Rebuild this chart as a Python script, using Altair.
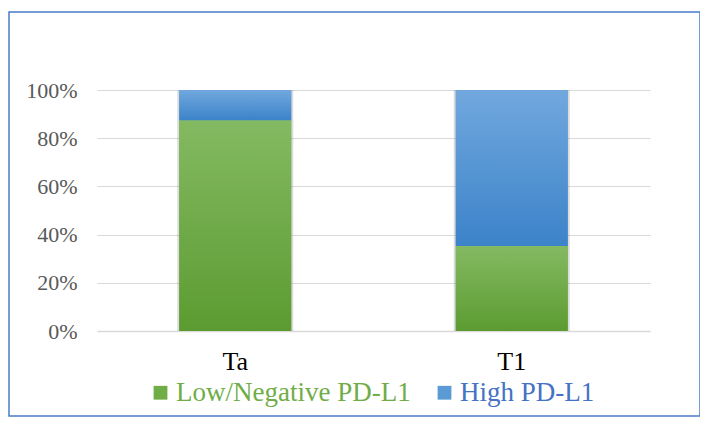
import altair as alt
import pandas as pd

categories = ["Ta", "T1"]
series_names = ["Low/Negative PD-L1", "High PD-L1"]
low_neg = [87.5, 35.3]
high_pdl1 = [12.5, 64.7]
y_ticks = [0, 20, 40, 60, 80, 100]

rows = []
for i, c in enumerate(categories):
    rows.append({"cat": c, "series": series_names[0], "order": 0, "value": low_neg[i]})
    rows.append({"cat": c, "series": series_names[1], "order": 1, "value": high_pdl1[i]})
df = pd.DataFrame(rows)

FONT = "Liberation Serif"

green_grad = alt.LinearGradient(
    gradient="linear", x1=0, x2=0, y1=0, y2=1,
    stops=[alt.GradientStop(color="#84BA62", offset=0),
           alt.GradientStop(color="#5C9B31", offset=1)],
)
blue_grad = alt.LinearGradient(
    gradient="linear", x1=0, x2=0, y1=0, y2=1,
    stops=[alt.GradientStop(color="#71A8DE", offset=0),
           alt.GradientStop(color="#3C83C9", offset=1)],
)

x_enc = alt.X(
    "cat:N", sort=categories, title=None,
    scale=alt.Scale(paddingInner=0, paddingOuter=0),
    axis=alt.Axis(labelFont=FONT, labelFontSize=26, labelColor="#000000",
                  labelAngle=0, ticks=False, domain=True, domainColor="#D9D9D9",
                  domainWidth=1.3, labelPadding=17),
)
y_enc = alt.Y(
    "v0:Q", title=None,
    scale=alt.Scale(domain=[0, 100], nice=False),
    axis=alt.Axis(values=y_ticks, labelExpr="datum.value + '%'", labelFont=FONT,
                  labelFontSize=22, labelColor="#595959", labelPadding=20,
                  ticks=False, domain=False, gridColor="#D9D9D9", gridWidth=1),
)

base = alt.Chart(df).transform_stack(
    stack="value", groupby=["cat"], as_=["v0", "v1"],
    sort=[alt.SortField("order", order="ascending")],
)

shadow = base.mark_bar(size=116, color="#8C8C8C", opacity=0.3).encode(
    x=x_enc, y=y_enc, y2="v1:Q"
)

legend_bars = base.mark_bar(size=112).encode(
    x=x_enc, y=y_enc, y2="v1:Q",
    color=alt.Color(
        "series:N",
        scale=alt.Scale(domain=series_names, range=["#70AD47", "#5B9BD5"]),
        legend=alt.Legend(
            title=None, orient="none", direction="horizontal",
            legendX=50, legendY=289,
            labelFont=FONT, labelFontSize=27,
            labelColor=alt.ExprRef(expr="datum.label === 'High PD-L1' ? '#4472C4' : '#70AD47'"),
            symbolType="square", symbolSize=190, symbolStrokeWidth=0,
            labelOffset=2, columnPadding=20, labelLimit=400,
        ),
    ),
)

green_bars = base.transform_filter(alt.datum.order == 0).mark_bar(
    size=112, fill=green_grad
).encode(x=x_enc, y=y_enc, y2="v1:Q")

blue_bars = base.transform_filter(alt.datum.order == 1).mark_bar(
    size=112, fill=blue_grad
).encode(x=x_enc, y=y_enc, y2="v1:Q")

border = alt.Chart(pd.DataFrame({"b": [0]})).mark_rect(
    filled=False, stroke="#4A7CCB", strokeWidth=1.5, clip=False
).encode(
    x=alt.value(-88), x2=alt.value(603), y=alt.value(-78), y2=alt.value(326)
)

chart = alt.layer(shadow, legend_bars, green_bars, blue_bars, border).properties(
    width=553, height=241,
    autosize=alt.AutoSizeParams(type="none"),
    padding={"left": 89, "top": 82, "right": 50, "bottom": 88},
    background="white",
).configure(font=FONT).configure_axis(labelFont=FONT).configure_legend(
    labelFont=FONT
).configure_view(stroke=None)

chart.save("out.html", embed_options={"renderer": "svg", "actions": False})
